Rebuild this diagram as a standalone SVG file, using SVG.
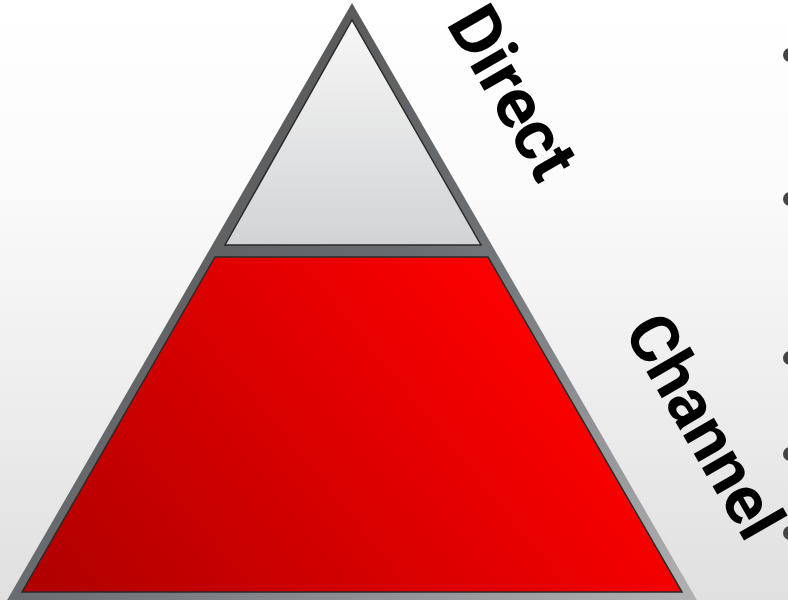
<svg xmlns="http://www.w3.org/2000/svg" width="788" height="600" viewBox="0 0 788 600">
  <defs>
    <linearGradient id="bg" x1="0" y1="0" x2="0" y2="1">
      <stop offset="0" stop-color="#ffffff"/>
      <stop offset="0.3" stop-color="#fbfbfb"/>
      <stop offset="1" stop-color="#e0e0e0"/>
    </linearGradient>
    <linearGradient id="frame" x1="0" y1="0" x2="1" y2="1">
      <stop offset="0" stop-color="#464646"/>
      <stop offset="0.5" stop-color="#6a6d70"/>
      <stop offset="1" stop-color="#b0b2b4"/>
    </linearGradient>
    <linearGradient id="top" x1="0" y1="0" x2="0" y2="1">
      <stop offset="0" stop-color="#f7f7f7"/>
      <stop offset="1" stop-color="#d2d3d5"/>
    </linearGradient>
    <linearGradient id="red" gradientUnits="userSpaceOnUse" x1="500" y1="250" x2="60" y2="610">
      <stop offset="0" stop-color="#ff0000"/>
      <stop offset="1" stop-color="#b00000"/>
    </linearGradient>
    <style>
      .lbl { font-family: Roboto, "Liberation Sans", Arial, sans-serif; font-weight: bold; font-size: 70px; fill: #000000; }
      .inner { stroke: #2a2a2a; stroke-width: 1.5; stroke-linejoin: miter; }
      .dot { fill: #444444; }
    </style>
  </defs>
  <rect x="0" y="0" width="788" height="600" fill="url(#bg)"/>
  <g id="pyramid-frame">
    <polygon points="352,3 6,602 698,602" fill="url(#frame)"/>
  </g>
  <g id="direct">
    <polygon class="inner" points="352,20 225,245 481,245" fill="url(#top)"/>
    <text class="lbl" transform="rotate(60)" x="243" y="-374">Direct</text>
  </g>
  <g id="channel">
    <polygon class="inner" points="215,257 488,257 682,592 22,592" fill="url(#red)"/>
    <text class="lbl" transform="rotate(60)" x="598" y="-374" style="font-size:67px">Channel</text>
  </g>
  <g id="bullets">
    <circle class="dot" cx="790" cy="55" r="7"/>
    <circle class="dot" cx="790" cy="199" r="7"/>
    <circle class="dot" cx="790" cy="358" r="7"/>
    <circle class="dot" cx="790" cy="454" r="7"/>
    <circle class="dot" cx="790" cy="533" r="7"/>
  </g>
  <g id="connectors"/>
</svg>
